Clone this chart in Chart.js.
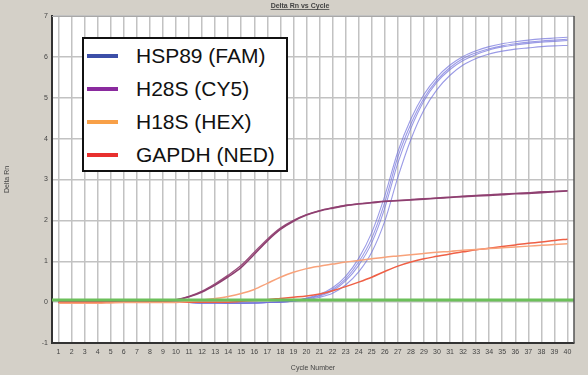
<!DOCTYPE html>
<html>
<head>
<meta charset="utf-8">
<script src="https://cdn.jsdelivr.net/npm/chart.js@4.4.1/dist/chart.umd.min.js"></script>
<style>
  body { margin: 0; background: #d4d0c8; }
  #wrap { position: relative; width: 588px; height: 375px; }
  #legend {
    position: absolute; left: 82px; top: 37px; width: 206px; height: 135px;
    box-sizing: border-box; border: 2px solid #111; background: #fff;
    font-family: "Liberation Sans", Arial, sans-serif; font-size: 21px; color: #111;
  }
  .row { height: 33px; line-height: 33px; display: flex; align-items: center; }
  .swatch { width: 31px; height: 4px; margin-left: 3px; margin-right: 18px; }
</style>
</head>
<body>
<div id="wrap">
  <canvas id="chart" width="588" height="375"></canvas>
  <div id="legend"></div>
</div>
<script>
const cycles = Array.from({ length: 40 }, (_, i) => String(i + 1));

// HSP89 (FAM) replicates
const hsp89A = [0.00,0.00,0.00,0.00,0.00,0.00,0.00,0.00,0.00,0.00,-0.01,-0.02,-0.02,-0.02,-0.02,-0.02,-0.01,0.00,0.03,0.08,0.15,0.28,0.52,0.90,1.45,2.30,3.40,4.25,4.92,5.38,5.69,5.91,6.06,6.17,6.24,6.29,6.33,6.36,6.38,6.40];
const hsp89B = [0.00,0.00,0.00,0.00,0.00,0.00,0.00,0.00,0.00,0.00,-0.01,-0.02,-0.02,-0.02,-0.02,-0.02,-0.01,0.01,0.04,0.10,0.19,0.35,0.63,1.07,1.70,2.60,3.68,4.48,5.08,5.50,5.80,6.01,6.15,6.25,6.32,6.37,6.41,6.44,6.46,6.48];
const hsp89C = [0.00,0.00,0.00,0.00,0.00,0.00,0.00,0.00,0.00,0.00,-0.01,-0.02,-0.02,-0.03,-0.03,-0.02,-0.01,0.00,0.02,0.06,0.12,0.22,0.42,0.74,1.22,1.98,3.05,3.98,4.70,5.20,5.55,5.80,5.96,6.07,6.14,6.19,6.22,6.25,6.27,6.28];
const hsp89D = [0.00,0.00,0.00,0.00,0.00,0.00,0.00,0.00,0.00,0.00,-0.01,-0.02,-0.02,-0.02,-0.02,-0.02,-0.01,0.00,0.03,0.09,0.17,0.31,0.57,0.98,1.56,2.44,3.55,4.36,4.99,5.43,5.74,5.96,6.10,6.20,6.27,6.32,6.36,6.39,6.41,6.43];
// H28S (CY5) replicates
const h28sA = [0.00,0.00,0.00,0.00,0.00,0.00,0.00,0.01,0.02,0.05,0.13,0.25,0.42,0.62,0.85,1.17,1.50,1.78,1.98,2.13,2.23,2.30,2.36,2.40,2.43,2.46,2.48,2.50,2.52,2.54,2.56,2.58,2.60,2.61,2.63,2.65,2.66,2.68,2.70,2.72];
const h28sB = [0.00,0.00,0.00,0.00,0.00,0.00,0.00,0.01,0.02,0.06,0.14,0.27,0.45,0.66,0.90,1.22,1.54,1.81,2.00,2.14,2.24,2.31,2.37,2.41,2.44,2.47,2.49,2.51,2.53,2.55,2.57,2.59,2.61,2.63,2.65,2.66,2.68,2.70,2.71,2.73];
// H18S (HEX)
const h18s = [-0.03,-0.03,-0.03,-0.03,-0.02,-0.01,-0.01,-0.01,-0.01,-0.01,0.02,0.05,0.09,0.14,0.21,0.31,0.46,0.61,0.73,0.82,0.88,0.93,0.98,1.02,1.06,1.10,1.13,1.16,1.19,1.22,1.24,1.27,1.29,1.31,1.33,1.35,1.37,1.39,1.41,1.43];
// GAPDH (NED)
const gapdh = [0.00,0.00,0.00,0.00,0.00,0.00,0.00,0.00,0.00,0.00,0.00,0.00,0.00,0.00,0.02,0.04,0.06,0.09,0.12,0.15,0.20,0.28,0.38,0.49,0.61,0.75,0.88,0.98,1.06,1.12,1.18,1.23,1.28,1.32,1.36,1.40,1.44,1.47,1.51,1.54];

const threshold = 0.05;
const yTicks = [-1, 0, 1, 2, 3, 4, 5, 6, 7];

const legendLabels = ["HSP89 (FAM)", "H28S (CY5)", "H18S (HEX)", "GAPDH (NED)"];
const legendColors = ["#3c4fa8", "#8a2a9e", "#f8a048", "#e8302e"];

const line = (data, color, width) => ({
    data, borderColor: color, borderWidth: width, pointRadius: 0,
    cubicInterpolationMode: 'monotone', fill: false
});

const datasets = [
    line(h18s, '#f8a27a', 1.5),
    line(gapdh, '#ef5f45', 1.5),
    line(h28sA, '#8e3f70', 1.6),
    line(h28sB, '#9a4e7c', 1.3),
    line(hsp89A, 'rgba(112,112,220,0.7)', 1.1),
    line(hsp89B, 'rgba(112,112,220,0.7)', 1.1),
    line(hsp89C, 'rgba(112,112,220,0.7)', 1.1),
    line(hsp89D, 'rgba(112,112,220,0.7)', 1.1)
];

const frame = {
    id: 'frame',
    beforeDraw(chart) {
        const { ctx, chartArea: a } = chart;
        ctx.save();
        ctx.fillStyle = '#d4d0c8';
        ctx.fillRect(0, 0, chart.width, chart.height);
        ctx.fillStyle = '#fff';
        ctx.fillRect(a.left, a.top, a.right - a.left, a.bottom - a.top);
        ctx.restore();
    },
    afterDatasetsDraw(chart) {
        const { ctx, chartArea: a, scales: { y } } = chart;
        const ty = y.getPixelForValue(threshold);
        ctx.save();
        ctx.strokeStyle = '#6cc05a';
        ctx.lineWidth = 3;
        ctx.beginPath();
        ctx.moveTo(a.left, ty);
        ctx.lineTo(a.right, ty);
        ctx.stroke();
        ctx.restore();
    },
    afterDraw(chart) {
        const { ctx, chartArea: a } = chart;
        ctx.save();
        ctx.strokeStyle = '#a8a8a8';
        ctx.lineWidth = 1;
        ctx.beginPath();
        ctx.moveTo(a.left, a.top + 0.5);
        ctx.lineTo(a.right, a.top + 0.5);
        ctx.stroke();
        ctx.strokeStyle = '#555';
        ctx.lineWidth = 1.5;
        ctx.beginPath();
        ctx.moveTo(a.right, a.top);
        ctx.lineTo(a.right, a.bottom);
        ctx.stroke();
        // title
        const text = 'Delta Rn vs Cycle';
        ctx.font = 'bold 7px "Liberation Sans", Arial, sans-serif';
        ctx.fillStyle = '#444';
        ctx.textAlign = 'center';
        ctx.textBaseline = 'alphabetic';
        const cx = 300, by = 8;
        ctx.fillText(text, cx, by);
        const w = ctx.measureText(text).width;
        ctx.strokeStyle = '#444';
        ctx.lineWidth = 0.8;
        ctx.beginPath();
        ctx.moveTo(cx - w / 2, by + 1.5);
        ctx.lineTo(cx + w / 2, by + 1.5);
        ctx.stroke();
        ctx.restore();
    }
};

const tickFont = { family: '"Liberation Sans", Arial, sans-serif', size: 7 };

new Chart(document.getElementById('chart'), {
    type: 'line',
    data: { labels: cycles, datasets },
    options: {
        responsive: false,
        animation: false,
        layout: { padding: { left: 0, right: 14, top: 16, bottom: 0 } },
        plugins: { legend: { display: false }, title: { display: false }, tooltip: { enabled: false } },
        scales: {
            x: {
                type: 'category',
                offset: true,
                grid: { offset: false, color: '#c2c2c2', lineWidth: 1.5, drawTicks: false },
                border: { color: '#333', width: 2 },
                ticks: { font: tickFont, color: '#444', padding: 5, maxRotation: 0, autoSkip: false },
                title: { display: true, text: 'Cycle Number', font: tickFont, color: '#444', padding: { top: 2, bottom: 3 } },
                afterFit: s => { s.height = 32; }
            },
            y: {
                min: -1, max: 7,
                afterBuildTicks: axis => { axis.ticks = yTicks.map(v => ({ value: v })); },
                grid: { color: '#c2c2c2', lineWidth: 1.5, drawTicks: false },
                border: { color: '#333', width: 2 },
                ticks: { font: tickFont, color: '#444', padding: 4 },
                title: { display: true, text: 'Delta Rn', font: tickFont, color: '#444', padding: { top: 3, bottom: 0 } },
                afterFit: s => { s.width = 52; }
            }
        }
    },
    plugins: [frame]
});

document.getElementById('legend').innerHTML = legendLabels.map((label, i) =>
    `<div class="row"><span class="swatch" style="background:${legendColors[i]}"></span><span>${label}</span></div>`
).join('');
</script>
</body>
</html>
